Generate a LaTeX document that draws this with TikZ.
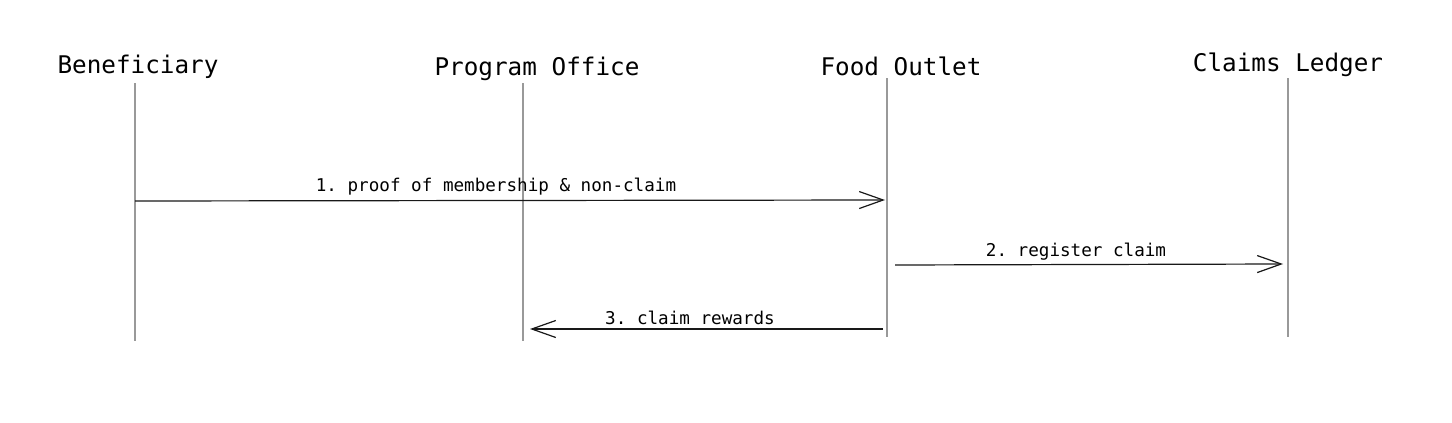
\documentclass[tikz,border=0pt]{standalone}
\usepackage{fontspec}
\setmonofont{DejaVu Sans Mono}
\usetikzlibrary{arrows.meta}

\begin{document}
\begin{tikzpicture}
[x=1pt,y=-1pt,every node/.style={font=\ttfamily\fontsize{17.6}{18}\selectfont,inner sep=0pt},
 actor/.style={font=\ttfamily\fontsize{24.3}{25}\selectfont},
 life/.style={draw=gray!80,line width=1.3pt},
 msg/.style={draw=black!90,line width=1.2pt,-{Straight Barb[length=24pt,width=17pt,line width=1.2pt]}}]
\useasboundingbox (0,0) rectangle (1452,423);
\node[actor] (ben) at (138,67) {Beneficiary};
\node[actor] (off) at (537,69) {Program Office};
\node[actor] (out) at (901,66) {Food Outlet};
\node[actor] (led) at (1288,65) {Claims Ledger};
\coordinate (ben1) at (135,83);  \coordinate (ben2) at (135,341);
\coordinate (off1) at (523,83);  \coordinate (off2) at (523,341);
\coordinate (out1) at (887,78);  \coordinate (out2) at (887,337);
\coordinate (led1) at (1288,78); \coordinate (led2) at (1288,337);
\foreach \from/\to in {ben1/ben2,off1/off2,out1/out2,led1/led2}
\draw[life] (\from) -- (\to);
\coordinate (m1a) at (135,201); \coordinate (m1b) at (885,200);
\coordinate (m2a) at (895,265); \coordinate (m2b) at (1283,264);
\coordinate (m3a) at (883,329); \coordinate (m3b) at (530,329);
\draw[msg] (m1a) -- (m1b);
\draw[msg] (m2a) -- (m2b);
\draw[msg] (m3a) -- (m3b);
\node (l1) at (496,187) {1. proof of membership \& non-claim};
\node (l2) at (1076,252) {2. register claim};
\node (l3) at (690,318) {3. claim rewards};
\end{tikzpicture}
\end{document}
